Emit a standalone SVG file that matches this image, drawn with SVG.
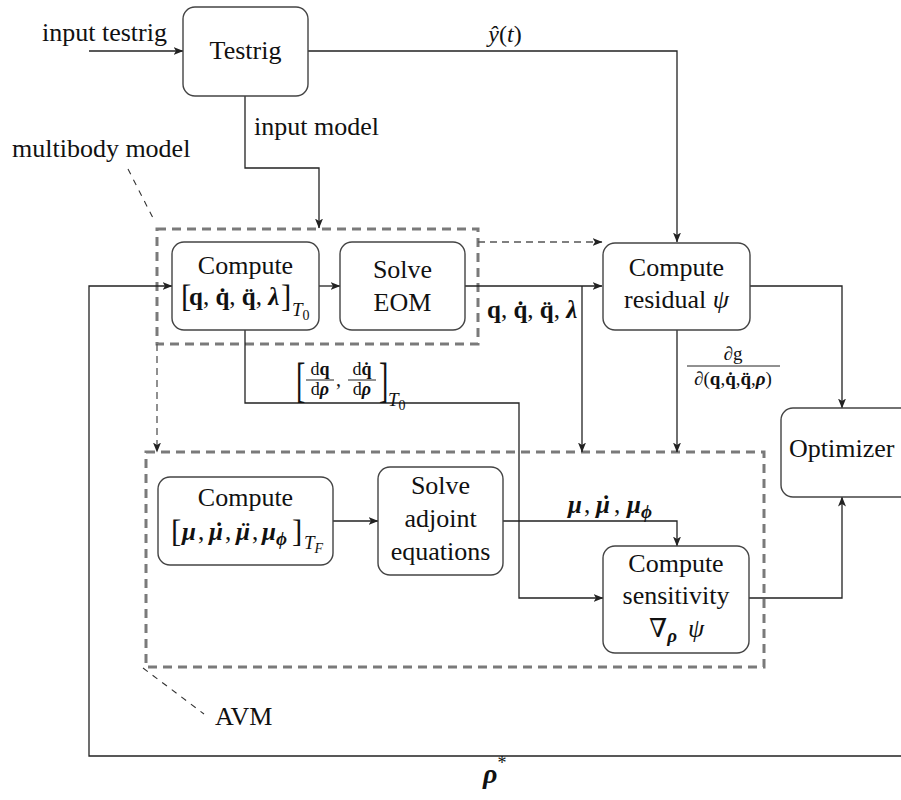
<svg xmlns="http://www.w3.org/2000/svg" width="901" height="800" viewBox="0 0 901 800">
  <style>
    text { font-family: "Liberation Serif", Tinos, "Times New Roman", "DejaVu Serif", serif; fill: #111; }
    .t { font-size: 26px; }
    .b { font-weight: bold; }
    .bi { font-weight: bold; font-style: italic; }
    .i { font-style: italic; }
    .c { text-anchor: middle; }
    .box { fill: #fff; stroke: #444; stroke-width: 1.4; }
    .wire { fill: none; stroke: #222; stroke-width: 1.3; }
    .dwire { fill: none; stroke: #555; stroke-width: 1.3; stroke-dasharray: 7 5; }
    .group { fill: none; stroke: #7a7a7a; stroke-width: 3; stroke-dasharray: 9 6; }
    .lead { fill: none; stroke: #333; stroke-width: 1.1; stroke-dasharray: 6 6; }
  </style>
  <defs>
    <marker id="arr" viewBox="0 0 10 8" refX="9.5" refY="4" markerWidth="10" markerHeight="8" markerUnits="userSpaceOnUse" orient="auto">
      <path d="M0,0 L10,4 L0,8 L2.5,4 z" fill="#222"/>
    </marker>
  </defs>

  <!-- group outlines -->
  <g id="multibody-model">
    <rect class="group" x="157" y="229" width="321" height="115"/>
    <path class="lead" d="M128,169 L155,222"/>
    <text class="t" x="12" y="157">multibody model</text>
  </g>
  <g id="avm">
    <rect class="group" x="146" y="452" width="618" height="215"/>
    <path class="lead" d="M143,668 L204,714"/>
    <text class="t" x="215" y="725">AVM</text>
  </g>

  <!-- connectors -->
  <g id="connectors">
    <path class="wire" d="M89,51 H183" marker-end="url(#arr)"/>
    <path class="wire" d="M308,51 H677 V242" marker-end="url(#arr)"/>
    <path class="wire" d="M245,96 V168 H319 V228" marker-end="url(#arr)"/>
    <path class="wire" d="M319,286 H340" marker-end="url(#arr)"/>
    <path class="wire" d="M465,286 H602" marker-end="url(#arr)"/>
    <path class="dwire" d="M478,242 H602" marker-end="url(#arr)"/>
    <path class="wire" d="M582,286 V452" marker-end="url(#arr)"/>
    <path class="wire" d="M677,330 V452" marker-end="url(#arr)"/>
    <path class="wire" d="M750,286 H842 V408" marker-end="url(#arr)"/>
    <path class="dwire" d="M157,344 V452" marker-end="url(#arr)"/>
    <path class="wire" d="M245,330 V403 H519 V598 H603" marker-end="url(#arr)"/>
    <path class="wire" d="M333,521 H378" marker-end="url(#arr)"/>
    <path class="wire" d="M503,521 H677 V546" marker-end="url(#arr)"/>
    <path class="wire" d="M749,598 H842 V497" marker-end="url(#arr)"/>
    <path class="wire" d="M901,756 H89 V286 H172" marker-end="url(#arr)"/>

    <!-- connector labels -->
    <text class="t" x="42" y="41">input testrig</text>
    <text class="t" x="254" y="135">input model</text>
    <text x="505" y="42" font-size="24" class="c"><tspan class="i">ŷ</tspan>(<tspan class="i">t</tspan>)</text>

    <text x="487" y="318" font-size="25"><tspan class="b">q</tspan>, <tspan class="b">q̇</tspan>, <tspan class="b">q̈</tspan>, <tspan class="bi">λ</tspan></text>

    <text x="733" y="360" font-size="19" class="c">∂g</text>
    <line x1="687" y1="366" x2="780" y2="366" stroke="#222" stroke-width="1"/>
    <text x="733" y="385" font-size="19" class="c">∂(<tspan class="b">q</tspan>,<tspan class="b">q̇</tspan>,<tspan class="b">q̈</tspan>,<tspan class="bi">ρ</tspan>)</text>

    <text x="296" y="396" font-size="40" transform="translate(296 396) scale(0.7 1.2) translate(-296 -396)">[</text>
    <text x="320" y="375" font-size="18" class="c">d<tspan class="b">q</tspan></text>
    <line x1="306" y1="380" x2="334" y2="380" stroke="#222" stroke-width="1"/>
    <text x="320" y="395" font-size="18" class="c">d<tspan class="bi">ρ</tspan></text>
    <text x="336" y="386" font-size="20">,</text>
    <text x="362" y="375" font-size="18" class="c">d<tspan class="b">q̇</tspan></text>
    <line x1="348" y1="380" x2="376" y2="380" stroke="#222" stroke-width="1"/>
    <text x="362" y="395" font-size="18" class="c">d<tspan class="bi">ρ</tspan></text>
    <text x="379" y="396" font-size="40" transform="translate(379 396) scale(0.7 1.2) translate(-379 -396)">]</text>
    <text class="i" x="388" y="406" font-size="19">T<tspan font-size="14" font-style="normal" dy="4">0</tspan></text>

    <!-- mu, mu-dot, mu_phi -->
    <g font-size="25">
      <text class="bi" x="568" y="513">μ</text>
      <text x="584" y="513">,</text>
      <text class="bi" x="596" y="513">μ<tspan dx="-9.5">˙</tspan></text>
      <text x="614" y="513">,</text>
      <text class="bi" x="627" y="513">μ<tspan font-size="19" dy="5">ϕ</tspan></text>
    </g>
    <text x="483" y="783" font-size="28"><tspan class="bi">ρ</tspan><tspan font-size="18" dy="-14">*</tspan></text>
  </g>

  <!-- nodes -->
  <g id="testrig">
    <rect class="box" x="183" y="7" width="125" height="89" rx="12"/>
    <text class="t c" x="245.5" y="59">Testrig</text>
  </g>
  <g id="compute-init">
    <rect class="box" x="172" y="242" width="147" height="88" rx="12"/>
    <text class="t c" x="245.5" y="274">Compute</text>
    <text x="181" y="307" font-size="31">[</text>
    <text x="189" y="305" font-size="25"><tspan class="b">q</tspan>, <tspan class="b">q̇</tspan>, <tspan class="b">q̈</tspan>, <tspan class="bi">λ</tspan></text>
    <text x="281" y="307" font-size="31">]</text>
    <text class="i" x="292" y="316" font-size="19">T<tspan font-size="14" font-style="normal" dy="4">0</tspan></text>
  </g>
  <g id="solve-eom">
    <rect class="box" x="340" y="242" width="125" height="88" rx="12"/>
    <text class="t c" x="402.5" y="278">Solve</text>
    <text class="t c" x="402.5" y="311">EOM</text>
  </g>
  <g id="compute-residual">
    <rect class="box" x="603" y="243" width="147" height="87" rx="12"/>
    <text class="t c" x="676.5" y="276">Compute</text>
    <text class="t c" x="676.5" y="308">residual <tspan class="i">ψ</tspan></text>
  </g>
  <g id="optimizer">
    <rect class="box" x="781" y="408" width="135" height="89" rx="12"/>
    <text class="t" x="789" y="457">Optimizer</text>
  </g>
  <g id="compute-adjoint-init">
    <rect class="box" x="158" y="477" width="175" height="88" rx="12"/>
    <text class="t c" x="245.5" y="506">Compute</text>
    <text x="171" y="542" font-size="31">[</text>
    <g font-size="25">
      <text class="bi" x="182" y="540">μ</text>
      <text x="198" y="540">,</text>
      <text class="bi" x="209" y="540">μ<tspan dx="-9.5">˙</tspan></text>
      <text x="225" y="540">,</text>
      <text class="bi" x="236" y="540">μ<tspan dx="-10">¨</tspan></text>
      <text x="252" y="540">,</text>
      <text class="bi" x="262" y="540">μ<tspan font-size="19" dy="5">ϕ</tspan></text>
    </g>
    <text x="292" y="542" font-size="31">]</text>
    <text class="i" x="304" y="549" font-size="19">T<tspan font-size="14" dy="4">F</tspan></text>
  </g>
  <g id="solve-adjoint">
    <rect class="box" x="378" y="467" width="125" height="108" rx="12"/>
    <text class="t c" x="440.5" y="494">Solve</text>
    <text class="t c" x="440.5" y="527">adjoint</text>
    <text class="t c" x="440.5" y="560">equations</text>
  </g>
  <g id="compute-sensitivity">
    <rect class="box" x="603" y="546" width="146" height="107" rx="12"/>
    <text class="t c" x="676" y="572">Compute</text>
    <text class="t c" x="676" y="604">sensitivity</text>
    <text x="649" y="637" font-size="26">∇<tspan class="bi" font-size="19" dy="5">ρ</tspan></text>
    <text class="i" x="688" y="637" font-size="26">ψ</text>
  </g>
</svg>
